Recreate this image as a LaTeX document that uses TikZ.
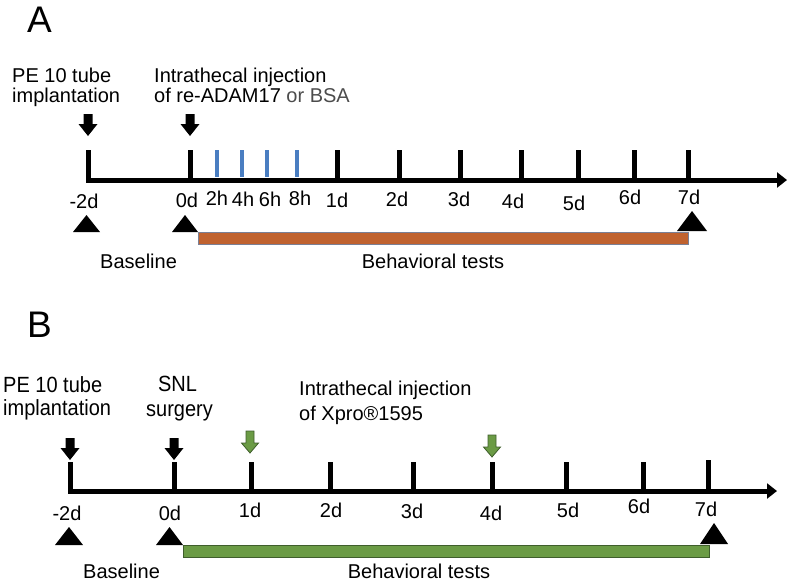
\documentclass[tikz,border=0pt]{standalone}
\usepackage{fontspec}
\setmainfont{Liberation Sans}
\usetikzlibrary{arrows.meta}
\definecolor{barorange}{HTML}{C0622F}
\definecolor{bargreen}{HTML}{6B9B45}
\definecolor{greenedge}{HTML}{3F5E2C}
\definecolor{tickblue}{HTML}{4A7EC1}
\definecolor{baredge}{HTML}{7A7F95}
\begin{document}
\begin{tikzpicture}[x=1pt,y=-1pt,
  txt/.style={font=\fontsize{20}{22}\selectfont, inner sep=0pt},
  big/.style={font=\fontsize{37}{40}\selectfont, inner sep=0pt, anchor=base west},
  timeline/.style={line width=5pt, -{Triangle[length=10pt,width=15pt]}},
  tick/.style={line width=5pt},
  bluetick/.style={line width=3.5pt, tickblue},
  marker/.style={fill=black},
  blkarrow/.pic={\fill[black] (-4.5,0) -- (4.5,0) -- (4.5,10) -- (9.5,10) -- (0,22) -- (-9.5,10) -- (-4.5,10) -- cycle;},
  grnarrow/.pic={\filldraw[fill=bargreen, draw=greenedge, line width=0.8pt] (-4,0) -- (4,0) -- (4,12) -- (8.5,12) -- (0,22) -- (-8.5,12) -- (-4,12) -- cycle;}
]
\useasboundingbox (0,0) rectangle (789,582);

% ---------------- Panel A ----------------
\node[big] (labA) at (27,32) {A};
\node[txt, anchor=base west] (peA1) at (12,82) {PE 10 tube};
\node[txt, anchor=base west] (peA2) at (12,102) {implantation};
\node[txt, anchor=base west] (injA1) at (154,82) {Intrathecal injection};
\node[txt, anchor=base west] (injA2) at (154,102) {of re-ADAM17 \textcolor{black!70}{or BSA}};
\pic at (88,114) {blkarrow};
\pic at (190,114) {blkarrow};

\coordinate (aStart) at (88,150);
\coordinate (aCorner) at (88,180);
\coordinate (aEnd) at (787,180);
\draw[timeline] (aStart) -- (aCorner) -- (aEnd);
\foreach \x/\n in {190/a0, 337/a1, 399/a2, 460/a3, 521/a4, 578/a5, 634/a6, 688/a7}{
  \coordinate (\n t) at (\x,150);
  \coordinate (\n b) at (\x,180);
  \draw[tick] (\n t) -- (\n b);
}
\foreach \x/\n in {217/h2, 242/h4, 267/h6, 297/h8}{
  \coordinate (\n t) at (\x,150);
  \coordinate (\n b) at (\x,177);
  \draw[bluetick] (\n t) -- (\n b);
}
\foreach \x/\y/\t/\n in {84/208/-2d/lAm2, 187/207/0d/lA0, 217/205/2h/lAh2, 243/206/4h/lAh4, 270/206/6h/lAh6, 300/205/8h/lAh8, 337/207/1d/lA1, 397/206/2d/lA2, 459/206/3d/lA3, 513/208/4d/lA4, 574/210/5d/lA5, 630/204/6d/lA6, 689/204/7d/lA7}{
  \node[txt, anchor=base] (\n) at (\x,\y) {\t};
}
\fill[marker] (73,232) -- (100,232) -- (86.5,215) -- cycle;
\fill[marker] (172,232) -- (198,232) -- (185,215) -- cycle;
\filldraw[fill=barorange, draw=baredge, line width=0.6pt] (198,232) rectangle (688,244);
\fill[marker] (677,231) -- (707,231) -- (692,211) -- cycle;
\node[txt, anchor=base west] (baseA) at (100,268) {Baseline};
\node[txt, anchor=base] (behA) at (433,268) {Behavioral tests};

% ---------------- Panel B ----------------
\node[big] (labB) at (27,337) {B};
\node[txt, anchor=base west] (peB1) at (3,392) {\scalebox{1}[1.1]{PE 10 tube}};
\node[txt, anchor=base west] (peB2) at (3,415) {\scalebox{1}[1.1]{implantation}};
\node[txt, anchor=base] (snl1) at (177.5,391) {\scalebox{1}[1.1]{SNL}};
\node[txt, anchor=base] (snl2) at (179.5,416) {\scalebox{1}[1.1]{surgery}};
\node[txt, anchor=base west] (injB1) at (299,395) {Intrathecal injection};
\node[txt, anchor=base west] (injB2) at (299,420) {of Xpro®1595};
\pic at (70,438) {blkarrow};
\pic at (174,438) {blkarrow};
\pic at (250,431) {grnarrow};
\pic at (492,435) {grnarrow};

\coordinate (bStart) at (70,462);
\coordinate (bCorner) at (70,491);
\coordinate (bEnd) at (777,491);
\draw[timeline] (bStart) -- (bCorner) -- (bEnd);
\foreach \x/\n/\top in {174/b0/462, 251/b1/462, 330/b2/462, 413/b3/462, 492/b4/462, 566/b5/462, 643/b6/462, 708/b7/460}{
  \coordinate (\n t) at (\x,\top);
  \coordinate (\n b) at (\x,491);
  \draw[tick] (\n t) -- (\n b);
}
\foreach \x/\y/\t/\n in {67/520/-2d/lBm2, 170/520/0d/lB0, 250/517/1d/lB1, 331/517/2d/lB2, 412/518/3d/lB3, 491/520/4d/lB4, 568/517/5d/lB5, 639/513/6d/lB6, 706/516/7d/lB7}{
  \node[txt, anchor=base] (\n) at (\x,\y) {\t};
}
\fill[marker] (55,545) -- (83,545) -- (69,527) -- cycle;
\fill[marker] (156,545) -- (183,545) -- (169.5,527) -- cycle;
\filldraw[fill=bargreen, draw=greenedge, line width=0.6pt] (183,545) rectangle (709,557);
\fill[marker] (700,544) -- (728,544) -- (714,523) -- cycle;
\node[txt, anchor=base west] (baseB) at (83,578) {Baseline};
\node[txt, anchor=base] (behB) at (419,578) {Behavioral tests};
\end{tikzpicture}
\end{document}
